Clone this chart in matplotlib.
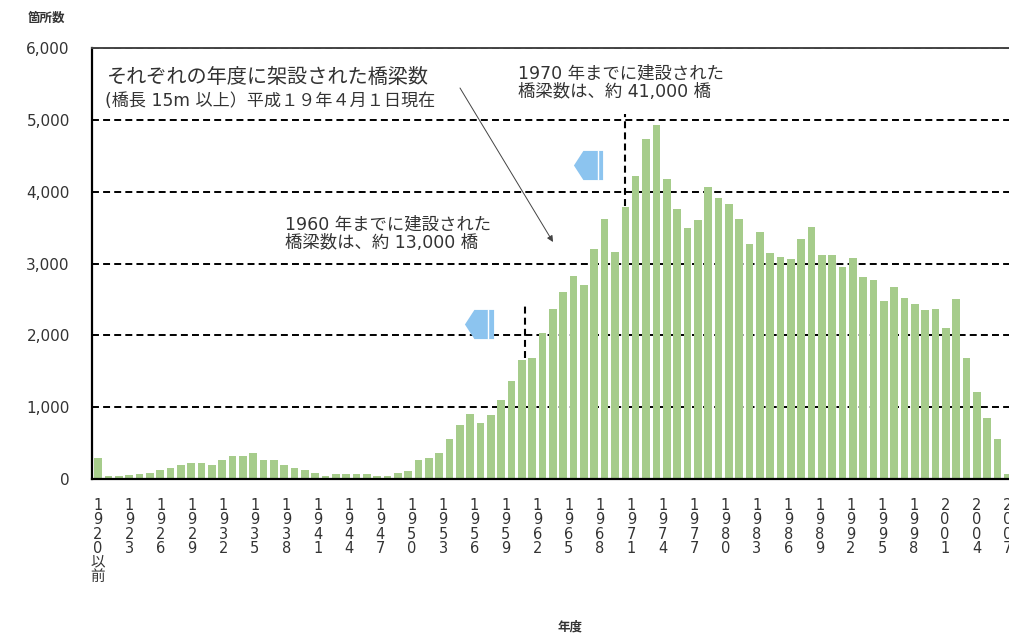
import numpy as np
import matplotlib
matplotlib.use("Agg")
import matplotlib.pyplot as plt
from matplotlib.path import Path

plt.rcParams['font.family'] = ['DejaVu Sans', 'Noto Sans CJK JP']
plt.rcParams['lines.scale_dashes'] = False

# bridges built per fiscal year (15m+ spans)
bridges = [
    288, 47, 47, 51, 70, 79, 126, 149, 195, 219,
    219, 195, 265, 321, 321, 367, 265, 265, 195, 149,
    126, 79, 47, 70, 70, 70, 70, 47, 47, 79,
    112, 265, 288, 367, 553, 753, 907, 777, 884, 1102,
    1367, 1651, 1684, 2033, 2367, 2600, 2823, 2698, 3205, 3614,
    3167, 3786, 4219, 4730, 4926, 4172, 3763, 3488, 3605, 4070,
    3916, 3833, 3623, 3265, 3437, 3149, 3093, 3065, 3344, 3512,
    3116, 3116, 2953, 3079, 2809, 2777, 2474, 2670, 2521, 2437,
    2349, 2367, 2098, 2512, 1679, 1214, 856, 558, 70,
]
tick_years = ["1920以前"] + [str(y) for y in range(1923, 2008, 3)]
yticks = [0, 1000, 2000, 3000, 4000, 5000, 6000]

# bars that carry the 1960 / 1970 cumulative markers
bar_1960 = 41
bar_1970 = 51

green = '#a6cc8b'
blue = '#8cc4ef'
txt = '#333333'

W, H = 1009, 639
fig = plt.figure(figsize=(W / 100, H / 100), dpi=100)
# axes run past the right edge like the cropped original
ax = fig.add_axes([92 / W, 160 / H, (1029 - 92) / W, 431 / H])

x = np.arange(len(bridges))
ax.bar(x, bridges, width=0.74, color=green, zorder=2)

ax.set_xlim(-0.58, 90.04)
ax.set_ylim(0, 6000)

ax.set_yticks(yticks)
ax.set_yticklabels([f"{v:,}" for v in yticks], fontsize=11, color=txt)
ax.tick_params(axis='y', length=0, pad=16)

# labels are spread evenly over the bars, as in the source
tick_pos = np.linspace(0, len(bridges) - 1, len(tick_years))
ax.set_xticks(tick_pos)
ax.set_xticklabels(["\n".join(t) for t in tick_years], fontsize=10.5, color=txt)
ax.tick_params(axis='x', length=0, pad=14)
for lbl in ax.get_xticklabels():
    lbl.set_linespacing(0.92)

ax.yaxis.grid(True, color='black', lw=1.4, dashes=(5, 3))
ax.set_axisbelow(True)

ax.spines['right'].set_visible(False)
ax.spines['left'].set_linewidth(1.6)
ax.spines['bottom'].set_linewidth(1.6)
ax.spines['top'].set_linewidth(1.4)
ax.spines['top'].set_color('#444444')

# cumulative markers
ax.plot([bar_1960 + 0.3] * 2, [bridges[bar_1960] + 40, 2450], color='black',
        lw=1.5, dashes=(5, 3), zorder=3)
ax.plot([bar_1970] * 2, [bridges[bar_1970] + 10, 5080], color='black',
        lw=1.5, dashes=(5, 3), zorder=3)

# blue block arrows pointing left, with the thin white cut near the tail
pent = Path([(-1, 0), (-0.35, 1), (1, 1), (1, -1), (-0.35, -1), (-1, 0)],
            [Path.MOVETO] + [Path.LINETO] * 4 + [Path.CLOSEPOLY])
for ax_x, ax_y in [(47.4, 4373), (36.8, 2160)]:
    ax.plot([ax_x], [ax_y], marker=pent, ms=21, color=blue, mec='none', zorder=4)
    ax.plot([ax_x + 0.95], [ax_y], marker='|', ms=22, mew=1.0, color='white',
            zorder=5)

# texts
fig.text(28 / W, 1 - 18 / H, "箇所数", fontsize=9, color=txt, va='center',
         fontweight='bold')
fig.text(570 / W, 1 - 627 / H, "年度", fontsize=9, color=txt, va='center',
         ha='center', fontweight='bold')
fig.text(107 / W, 1 - 77 / H, "それぞれの年度に架設された橋梁数", fontsize=14.5,
         color=txt, va='center')
fig.text(105 / W, 1 - 101 / H, "(橋長 15m 以上）平成１９年４月１日現在", fontsize=12.3,
         color=txt, va='center')
fig.text(518 / W, 1 - 83 / H, "1970 年までに建設された\n橋梁数は、約 41,000 橋",
         fontsize=12.5, color=txt, va='center', linespacing=1.05)
fig.text(285 / W, 1 - 234 / H, "1960 年までに建設された\n橋梁数は、約 13,000 橋",
         fontsize=12.5, color=txt, va='center', linespacing=1.05)

ax.annotate('', xy=(553, H - 242), xytext=(460, H - 88),
            xycoords='figure pixels', textcoords='figure pixels',
            arrowprops=dict(arrowstyle='-|>', color='#444444', lw=0.7,
                            mutation_scale=9, shrinkA=0, shrinkB=0))

fig.savefig("out.png", dpi=100)
